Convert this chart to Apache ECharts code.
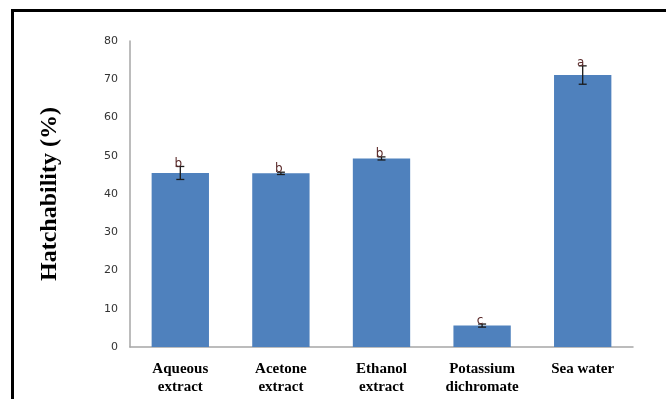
<!DOCTYPE html>
<html>
<head>
<meta charset="utf-8">
<script src="https://cdn.jsdelivr.net/npm/echarts@6/dist/echarts.min.js"></script>
<style>
  html, body { margin: 0; padding: 0; background: #fff; }
  #frame { position: absolute; left: 11px; top: 9px; width: 700px; height: 420px; border: 3px solid #000; box-sizing: border-box; }
  #chart { position: absolute; left: 0; top: 0; width: 666px; height: 399px; }
</style>
</head>
<body>
<div id="frame"></div>
<div id="chart"></div>
<script>
// Treatments and mean hatchability (%)
const categories = ['Aqueous\nextract', 'Acetone\nextract', 'Ethanol\nextract', 'Potassium\ndichromate', 'Sea water'];
const hatchability = [45.5, 45.4, 49.3, 5.6, 71.1];
// Standard error of each mean
const stdError = [1.7, 0.3, 0.4, 0.4, 2.4];
// Significance letters
const groupLetters = ['b', 'b', 'b', 'c', 'a'];
const yTicks = { min: 0, max: 80, interval: 10 };

const chart = echarts.init(document.getElementById('chart'), null, { renderer: 'canvas' });

const errData = hatchability.map((v, i) => [i, v - stdError[i], v + stdError[i], groupLetters[i]]);

chart.setOption({
  animation: false,
  grid: { left: 130, right: 33, top: 41, bottom: 52 },
  xAxis: {
    type: 'category',
    data: categories,
    axisLine: { lineStyle: { color: '#a6a6a6', width: 1.5 } },
    axisTick: { show: false },
    axisLabel: {
      margin: 13,
      interval: 0,
      color: '#000',
      fontFamily: 'Liberation Serif',
      fontWeight: 'bold',
      fontSize: 15,
      lineHeight: 18
    }
  },
  yAxis: {
    type: 'value',
    min: yTicks.min,
    max: yTicks.max,
    interval: yTicks.interval,
    name: 'Hatchability (%)',
    nameLocation: 'middle',
    nameGap: 68,
    nameTextStyle: {
      color: '#000',
      fontFamily: 'Liberation Serif',
      fontWeight: 'bold',
      fontSize: 24
    },
    splitLine: { show: false },
    axisTick: { show: false },
    axisLine: { show: true, lineStyle: { color: '#a6a6a6', width: 1.5 } },
    axisLabel: {
      margin: 12,
      color: '#333',
      fontFamily: 'DejaVu Sans',
      fontSize: 11
    }
  },
  series: [
    {
      type: 'bar',
      data: hatchability,
      barWidth: '57%',
      itemStyle: { color: '#4f81bd' }
    },
    {
      type: 'custom',
      data: errData,
      z: 10,
      renderItem: function (params, api) {
        const x = api.value(0);
        const lo = api.coord([x, api.value(1)]);
        const hi = api.coord([x, api.value(2)]);
        const cap = 4;
        const style = { stroke: '#1a1a1a', lineWidth: 1.3 };
        return {
          type: 'group',
          children: [
            { type: 'line', shape: { x1: hi[0], y1: hi[1], x2: lo[0], y2: lo[1] }, style: style },
            { type: 'line', shape: { x1: hi[0] - cap, y1: hi[1], x2: hi[0] + cap, y2: hi[1] }, style: style },
            { type: 'line', shape: { x1: lo[0] - cap, y1: lo[1], x2: lo[0] + cap, y2: lo[1] }, style: style },
            {
              type: 'text',
              style: {
                text: api.value(3),
                x: hi[0] - 2,
                y: hi[1] + 3,
                textAlign: 'center',
                textVerticalAlign: 'bottom',
                fill: '#5b2a2a',
                font: '12px "DejaVu Sans"'
              }
            }
          ]
        };
      }
    }
  ]
});
</script>
</body>
</html>
